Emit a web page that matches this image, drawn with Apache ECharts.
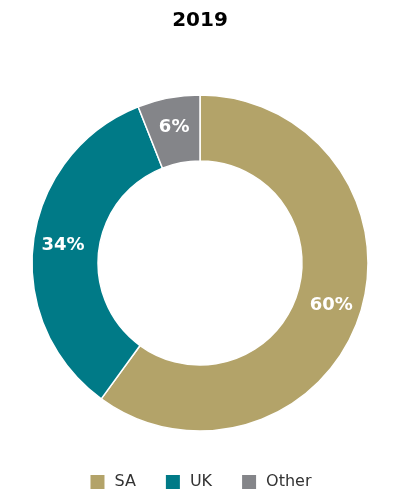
<!DOCTYPE html>
<html>
<head>
<meta charset="utf-8">
<script src="https://cdn.jsdelivr.net/npm/echarts@6/dist/echarts.min.js"></script>
<style>html,body{margin:0;padding:0;background:#fff;}#c{width:400px;height:500px;}</style>
</head>
<body>
<div id="c"></div>
<script>
const categories = ["SA", "UK", "Other"];
const values = [60, 34, 6];
const colors = ["#B3A369", "#007A87", "#848589"];
const titleText = "2019";

const chart = echarts.init(document.getElementById('c'), null, {renderer: 'canvas'});
chart.setOption({
  animation: false,
  title: {
    text: titleText, left: 'center', top: 6,
    textStyle: {fontFamily: 'DejaVu Sans', fontWeight: 'bold', fontSize: 20, color: '#000'}
  },
  legend: {
    bottom: 4, left: 'center', itemWidth: 16, itemHeight: 16, itemGap: 28,
    icon: 'rect',
    textStyle: {fontFamily: 'DejaVu Sans', fontSize: 16, color: '#333', padding: [0, 0, 0, 4]},
    data: categories
  },
  series: [{
    type: 'pie',
    center: [200, 263],
    radius: [102, 168],
    startAngle: 90,
    clockwise: true,
    itemStyle: {borderColor: '#fff', borderWidth: 1.5},
    label: {
      position: 'inside',
      formatter: '{c}%',
      color: '#fff',
      fontFamily: 'DejaVu Sans',
      fontWeight: 'bold',
      fontSize: 18
    },
    labelLine: {show: false},
    data: categories.map((n, i) => ({name: n, value: values[i], itemStyle: {color: colors[i]}}))
  }]
});
</script>
</body>
</html>
